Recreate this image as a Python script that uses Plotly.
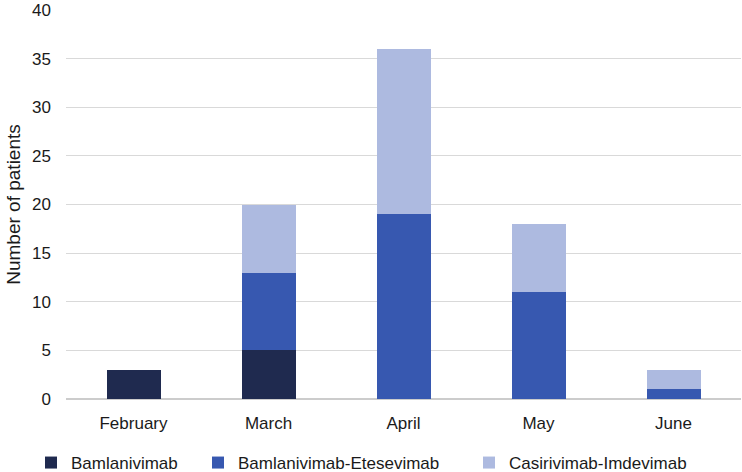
import plotly.graph_objects as go

months = ["February", "March", "April", "May", "June"]
bamlanivimab = [3, 5, 0, 0, 0]
bamlanivimab_etesevimab = [0, 8, 19, 11, 1]
casirivimab_imdevimab = [0, 7, 17, 7, 2]

series_names = ["Bamlanivimab", "Bamlanivimab-Etesevimab", "Casirivimab-Imdevimab"]
colors = ["#1f2a4f", "#3758b0", "#adbae0"]
y_ticks = [0, 5, 10, 15, 20, 25, 30, 35, 40]

W, H = 742, 472
legend_ids = ["legend", "legend2", "legend3"]
legend_text_x = [70, 237, 508]  # approximate pixel positions of legend texts

fig = go.Figure()
for name, vals, col, lid in zip(series_names,
                                [bamlanivimab, bamlanivimab_etesevimab, casirivimab_imdevimab],
                                colors, legend_ids):
    fig.add_trace(go.Bar(x=months, y=vals, name=name, legend=lid, showlegend=True,
                         marker=dict(color=col, line=dict(width=0))))

font = "Liberation Sans, Arial, sans-serif"
txt = "#1a1a1a"
legends = {}
for lid, tx in zip(legend_ids, legend_text_x):
    legends[lid] = dict(orientation="h", xref="container", yref="container",
                        x=(tx - 39) / W, xanchor="left", y=1 - 463 / H, yanchor="middle",
                        font=dict(size=17, color=txt), itemclick=False,
                        bgcolor="rgba(0,0,0,0)")

fig.update_layout(
    showlegend=True,
    barmode="stack",
    bargap=0.6,
    width=W, height=H,
    margin=dict(l=66, r=1, t=10, b=73, autoexpand=False),
    plot_bgcolor="white", paper_bgcolor="white",
    font=dict(family=font, size=17, color=txt),
    xaxis=dict(showgrid=False, ticks="", showline=False, tickfont=dict(size=17),
               automargin=False, ticklabelstandoff=12),
    yaxis=dict(range=[0, 40], tickvals=y_ticks, showgrid=True, gridcolor="#d9d9d9",
               gridwidth=1, zeroline=True, zerolinecolor="#cccccc", zerolinewidth=2,
               tickfont=dict(size=17), ticklabelstandoff=14, automargin=False,
               title=dict(text="Number of patients", font=dict(size=19), standoff=6)),
    **legends,
)
fig.write_html("out.html", config={"displayModeBar": False},
               post_script="document.body.style.margin='0';")
